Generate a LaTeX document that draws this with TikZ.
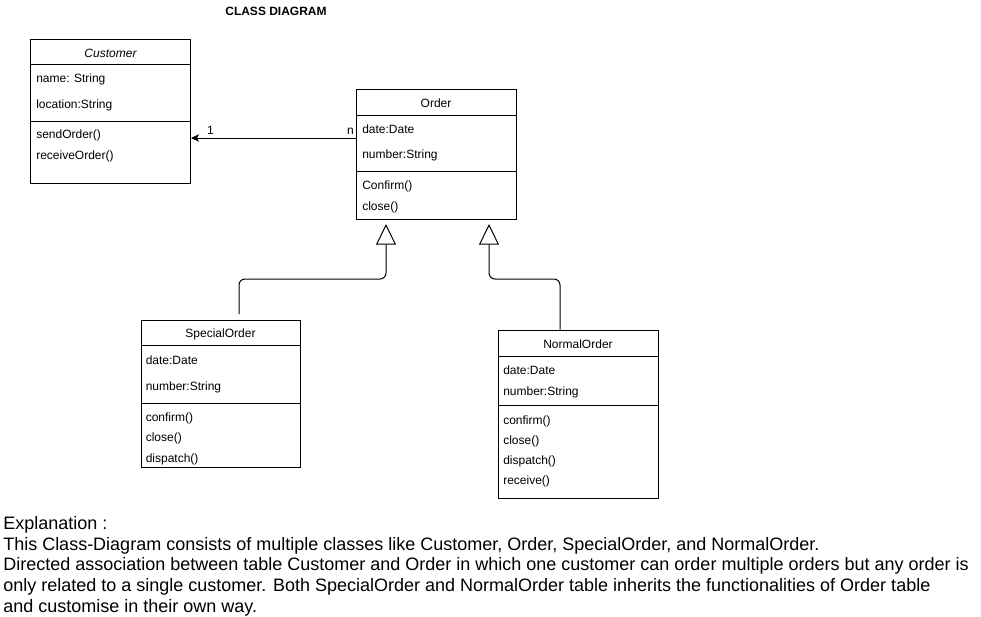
\documentclass[tikz,border=0pt]{standalone}
\usepackage{fontspec}
\setmainfont{Liberation Sans}
\usetikzlibrary{arrows.meta,fit}
\begin{document}
\begin{tikzpicture}[x=0.75pt,y=-0.75pt,
  box/.style={draw,line width=0.75pt,inner sep=0pt,fit={#1}},
  divider/.style={line width=0.75pt},
  txt/.style={anchor=west,inner sep=0pt,font=\fontsize{9}{11}\selectfont},
  ttl/.style={inner sep=0pt,font=\fontsize{9}{11}\selectfont},
  assoc/.style={line width=0.75pt,-{Stealth[length=6pt,width=5.5pt,inset=1.5pt]}},
  inherit/.style={line width=0.75pt,rounded corners=4.5pt,-{Triangle[open,length=15.5pt,width=15pt,fill=white]}},
  expl/.style={anchor=north west,inner sep=0pt,align=left,font=\fontsize{13.5}{15.55}\selectfont}
]
\useasboundingbox (0,0) rectangle (981,617);
\fill[white] (0,0) rectangle (981,617);

\node[inner sep=0pt,font=\fontsize{9}{10}\selectfont\bfseries] (title) at (276,11.5) {CLASS DIAGRAM};

% Customer
\node[box={(30.5,39.5)(190.5,183)}] (cust) {};
\draw[divider] (30.5,65) -- (190.5,65);
\draw[divider] (30.5,121) -- (190.5,121);
\node[ttl,font=\fontsize{9}{11}\selectfont\itshape] (custT) at (110.5,53) {Customer};
\node[txt] (c1) at (36,79.5) {name: String};
\node[txt] (c2) at (36,105.5) {location:String};
\node[txt] (c3) at (36,135) {sendOrder()};
\node[txt] (c4) at (36,156.5) {receiveOrder()};

% Order
\node[box={(356,89.5)(516.5,219.5)}] (order) {};
\draw[divider] (356,115) -- (516.5,115);
\draw[divider] (356,171) -- (516.5,171);
\node[ttl] (orderT) at (436,103.5) {Order};
\node[txt] (o1) at (362,129.5) {date:Date};
\node[txt] (o2) at (362,155.5) {number:String};
\node[txt] (o3) at (362,186.5) {Confirm()};
\node[txt] (o4) at (362,207) {close()};

% SpecialOrder
\node[box={(141,320)(300.5,467)}] (special) {};
\draw[divider] (141,345) -- (300.5,345);
\draw[divider] (141,403.5) -- (300.5,403.5);
\node[ttl] (specialT) at (220.5,334.5) {SpecialOrder};
\node[txt] (s1) at (145.5,360.5) {date:Date};
\node[txt] (s2) at (145.5,387.5) {number:String};
\node[txt] (s3) at (145.5,418.5) {confirm()};
\node[txt] (s4) at (145.5,438.5) {close()};
\node[txt] (s5) at (145.5,459) {dispatch()};

% NormalOrder
\node[box={(498,330)(658,498.5)}] (normal) {};
\draw[divider] (498,356) -- (658,356);
\draw[divider] (498,405.5) -- (658,405.5);
\node[ttl] (normalT) at (578,344) {NormalOrder};
\node[txt] (n1) at (503,370.5) {date:Date};
\node[txt] (n2) at (503,392.5) {number:String};
\node[txt] (n3) at (503,421.5) {confirm()};
\node[txt] (n4) at (503,441.5) {close()};
\node[txt] (n5) at (503,461.5) {dispatch()};
\node[txt] (n6) at (503,481.5) {receive()};

% association
\coordinate (aY) at (0,138);
\draw[assoc] (order.west |- aY) -- (cust.east |- aY);
\node[ttl] (m1) at (210.5,130.5) {1};
\node[ttl] (mn) at (350.5,131) {n};

% inheritance
\coordinate (sp) at (239,314);
\coordinate (tipL) at (386,224);
\coordinate (tipR) at (489,224);
\draw[inherit] (sp) -- (239,279) -- (386,279) -- (tipL);
\draw[inherit] (normal.north -| 560,0) -- (560,279) -- (489,279) -- (tipR);

% explanation
\node[expl] (expl) at (3,516) {Explanation :\\
This Class-Diagram consists of multiple classes like Customer, Order, SpecialOrder, and NormalOrder.\\
Directed association between table Customer and Order in which one customer can order multiple orders but any order is\\
only related to a single customer. Both SpecialOrder and NormalOrder table inherits the functionalities of Order table\\
and customise in their own way.};
\end{tikzpicture}
\end{document}
